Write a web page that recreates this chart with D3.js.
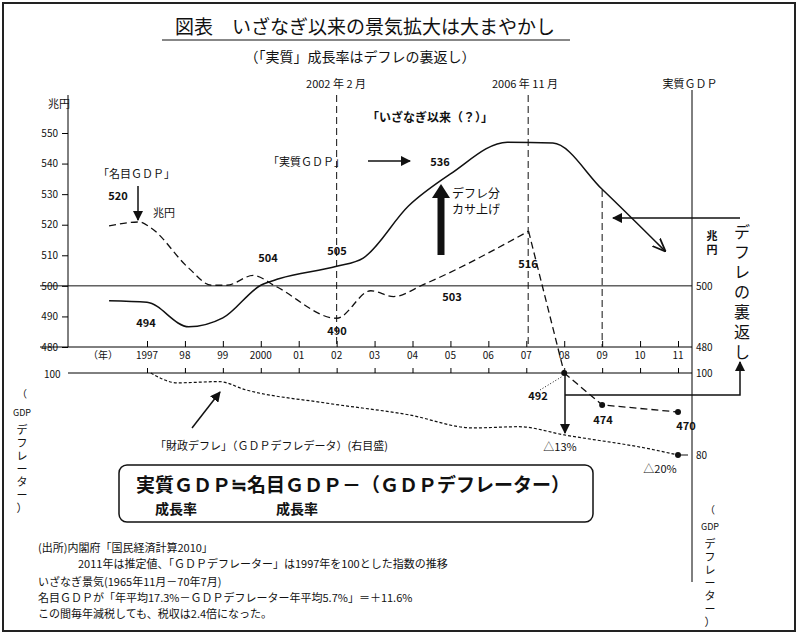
<!DOCTYPE html>
<html>
<head>
<meta charset="utf-8">
<script src="https://d3js.org/d3.v7.min.js"></script>
<style>
  body { margin:0; background:#fff; }
  text { font-family:"Noto Sans CJK JP", sans-serif; fill:#111; }
</style>
</head>
<body>
<script>
// data
var years = ["1997","98","99","2000","01","02","03","04","05","06","07","08","09","10","11"];
var realGdp = [[1996,495.1],[1997,494.6],[1998.1,486.6],[1999,489.5],[2000,500.2],[2000.5,502.4],[2002,506.4],[2002.7,509.1],[2003.9,526.2],[2005,536.6],[2006.5,547],[2007.7,546.7],[2009,531.6],[2010.65,511.5]];
var nominalGdp = [[1996,519.6],[1996.8,520.9],[1997.1,519],[1998.1,505.8],[1998.7,500.2],[1999.1,500.2],[1999.8,503.4],[2000.4,499.8],[2002,489.4],[2002.9,498.4],[2003.5,496.5],[2004.3,500.5],[2007.06,517.9]];
var nominalLow = [[2008,492],[2009,474],[2011,470]];
var deflator = [[1997.1,100],[1997.8,97.6],[1998.9,97.9],[1999.6,95.9],[2001.7,92.7],[2003.9,89.8],[2005.6,86.6],[2006.8,86.9],[2008,84.9],[2010.3,81.4],[2011,80]];
var leftTicks = [480,490,500,510,520,530,540,550];

var W = 798, H = 634;
var svg = d3.select("body").append("svg").attr("width",W).attr("height",H);
svg.append("rect").attr("x",3).attr("y",3).attr("width",W-6).attr("height",H-6)
  .attr("fill","none").attr("stroke","#222").attr("stroke-width",2);

var x = d3.scaleLinear().domain([1997,2011]).range([147,678]);
var y = d3.scaleLinear().domain([480,550]).range([347,133]);
var yd = d3.scaleLinear().domain([80,100]).range([455,373]);
var yl = d3.scaleLinear().domain([470,492]).range([412,373]);

function txt(s,tx,ty,size,opt){
  opt = opt||{};
  return svg.append("text").attr("x",tx).attr("y",ty).attr("font-size",size)
    .attr("text-anchor",opt.anchor||"start").attr("font-weight",opt.bold?"bold":"normal").text(s);
}
function vtxt(s,tx,ty,size,step,bold){
  s.split("").forEach(function(c,i){
    txt(c,tx,ty+i*step,size,{anchor:"middle",bold:bold});
  });
}

svg.append("defs").append("marker").attr("id","ar").attr("viewBox","0 0 10 10")
  .attr("refX",9).attr("refY",5).attr("markerWidth",9).attr("markerHeight",9).attr("orient","auto")
  .append("path").attr("d","M0,1L10,5L0,9").attr("fill","none").attr("stroke","#111").attr("stroke-width",1.3);
svg.select("defs").append("marker").attr("id","af").attr("viewBox","0 0 10 10")
  .attr("refX",9).attr("refY",5).attr("markerWidth",7).attr("markerHeight",7).attr("orient","auto")
  .append("path").attr("d","M0,0L10,5L0,10z").attr("fill","#111");

// titles
txt("図表　いざなぎ以来の景気拡大は大まやかし",365,34,19,{anchor:"middle"});
svg.append("line").attr("x1",162).attr("x2",570).attr("y1",40).attr("y2",40).attr("stroke","#111");
txt("（「実質」成長率はデフレの裏返し）",360,62,14,{anchor:"middle"});

// axes
var axL = svg.append("g").attr("transform","translate(68,0)")
  .call(d3.axisLeft(y).tickValues(leftTicks).tickSize(6).tickFormat(d=>d));
axL.select(".domain").attr("d","M0,95V347");
axL.selectAll("text").attr("font-size",10).attr("x",-10);
txt("兆円",48,108,11);

var axR = svg.append("g").attr("transform","translate(692,0)")
  .call(d3.axisLeft(y).tickValues([480,500]).tickSize(0).tickFormat(d=>d));
axR.select(".domain").attr("d","M0,90V582");
axR.selectAll("text").attr("font-size",10).attr("x",4).attr("text-anchor","start");
var axR2 = svg.append("g").attr("transform","translate(692,0)")
  .call(d3.axisLeft(yd).tickValues([80,100]).tickSize(0).tickFormat(d=>d));
axR2.select(".domain").remove();
axR2.selectAll("text").attr("font-size",10).attr("x",4).attr("text-anchor","start");
svg.append("line").attr("x1",676).attr("x2",688).attr("y1",yd(80)).attr("y2",yd(80)).attr("stroke","#111");

var axX = svg.append("g").attr("transform","translate(0,347)")
  .call(d3.axisTop(x).tickValues(d3.range(1997,2012)).tickSize(6).tickFormat(""));
axX.select(".domain").attr("d","M40,0H692");
axX.selectAll("text").remove();
years.forEach(function(s,i){ txt(s,x(1997+i),359,10,{anchor:"middle"}); });
txt("（年）",103,359,10,{anchor:"middle"});

var axX2 = svg.append("g").attr("transform","translate(0,373)")
  .call(d3.axisTop(x).tickValues(d3.range(1997,2012)).tickSize(5).tickFormat(""));
axX2.select(".domain").attr("d","M68,0H692");
txt("100",44,378,10);
svg.append("line").attr("x1",40).attr("x2",692).attr("y1",y(500)).attr("y2",y(500)).attr("stroke","#111");

// vertical dashed markers
[[2002,95,347],[2007.05,95,347],[2009,190,347]].forEach(function(d){
  svg.append("line").attr("x1",x(d[0])).attr("x2",x(d[0])).attr("y1",d[1]).attr("y2",d[2])
    .attr("stroke","#111").attr("stroke-dasharray","7,4");
});
txt("2002 年 2 月",336,88,11,{anchor:"middle"});
txt("2006 年 11 月",525,88,11,{anchor:"middle"});
txt("実質ＧＤＰ",690,88,11,{anchor:"middle"});

// series
var ln = d3.line().x(d=>x(d[0])).curve(d3.curveMonotoneX);
svg.append("path").datum(realGdp).attr("d",ln.y(d=>y(d[1]))).attr("fill","none")
  .attr("stroke","#111").attr("stroke-width",1.5).attr("marker-end","url(#ar)");
svg.append("path").datum(nominalGdp).attr("d",ln.y(d=>y(d[1]))).attr("fill","none")
  .attr("stroke","#111").attr("stroke-width",1.3).attr("stroke-dasharray","7,4");
svg.append("line").attr("x1",x(2007.06)).attr("y1",y(517.9)).attr("x2",x(2008)).attr("y2",yl(492))
  .attr("stroke","#111").attr("stroke-width",1.3).attr("stroke-dasharray","7,4");
svg.append("path").datum(nominalLow).attr("d",d3.line().x(d=>x(d[0])).y(d=>yl(d[1]))).attr("fill","none")
  .attr("stroke","#111").attr("stroke-width",1.3).attr("stroke-dasharray","7,4");
svg.selectAll(".nl").data(nominalLow).join("circle").attr("cx",d=>x(d[0])).attr("cy",d=>yl(d[1])).attr("r",3).attr("fill","#111");
svg.append("path").datum(deflator).attr("d",d3.line().x(d=>x(d[0])).y(d=>yd(d[1])).curve(d3.curveMonotoneX))
  .attr("fill","none").attr("stroke","#111").attr("stroke-width",1.2).attr("stroke-dasharray","3,2");
svg.append("circle").attr("cx",x(2011)).attr("cy",yd(80)).attr("r",3).attr("fill","#111");

// annotations
txt("「いざなぎ以来（？）」",430,122,12,{anchor:"middle",bold:true});
txt("「実質ＧＤＰ」",268,166,11);
svg.append("line").attr("x1",368).attr("x2",410).attr("y1",161).attr("y2",161).attr("stroke","#111").attr("stroke-width",1.5).attr("marker-end","url(#af)");
txt("536",440,166,11,{anchor:"middle",bold:true});
txt("「名目ＧＤＰ」",98,178,11);
svg.append("line").attr("x1",138).attr("x2",138).attr("y1",186).attr("y2",220).attr("stroke","#111").attr("stroke-width",1.5).attr("marker-end","url(#af)");
txt("520",118,200,11,{anchor:"middle",bold:true});
txt("兆円",153,217,11);
txt("504",268,262,11,{anchor:"middle",bold:true});
txt("505",337,255,11,{anchor:"middle",bold:true});
txt("494",146,327,11,{anchor:"middle",bold:true});
txt("490",337,335,11,{anchor:"middle",bold:true});
txt("503",452,301,11,{anchor:"middle",bold:true});
txt("516",528,268,11,{anchor:"middle",bold:true});
svg.append("line").attr("x1",441).attr("x2",441).attr("y1",255).attr("y2",193).attr("stroke","#111").attr("stroke-width",7);
svg.append("path").attr("d","M432,198L441,184L450,198z").attr("fill","#111");
txt("デフレ分",452,198,12);
txt("カサ上げ",452,214,12);

// right side
vtxt("兆円",712,240,11,14,true);
vtxt("デフレの裏返し",742,238,16,20,false);
svg.append("line").attr("x1",740).attr("x2",613).attr("y1",218).attr("y2",218).attr("stroke","#111").attr("stroke-width",1.5).attr("marker-end","url(#af)");
svg.append("path").attr("d","M565,395H740V362").attr("fill","none").attr("stroke","#111").attr("stroke-width",1.5).attr("marker-end","url(#af)");
svg.append("line").attr("x1",565).attr("x2",565).attr("y1",375).attr("y2",433).attr("stroke","#111").attr("stroke-width",1.5).attr("marker-end","url(#af)");
svg.append("line").attr("x1",540).attr("x2",563).attr("y1",390).attr("y2",376).attr("stroke","#111").attr("stroke-dasharray","1,2");
txt("492",538,400,11,{anchor:"middle",bold:true});
txt("474",603,424,11,{anchor:"middle",bold:true});
txt("470",686,430,11,{anchor:"middle",bold:true});
txt("△13%",560,451,11,{anchor:"middle"});
txt("△20%",660,473,11,{anchor:"middle"});
txt("「財政デフレ」（ＧＤＰデフレデータ）(右目盛)",155,450,11);
svg.append("line").attr("x1",192).attr("x2",220).attr("y1",428).attr("y2",392).attr("stroke","#111").attr("stroke-width",1.5).attr("marker-end","url(#af)");

txt("（",22,398,10,{anchor:"middle"});
txt("GDP",22,416,9,{anchor:"middle"});
vtxt("デフレーター）",22,434,11,13,false);
txt("（",710,514,10,{anchor:"middle"});
txt("GDP",710,530,9,{anchor:"middle"});
vtxt("デフレーター）",710,548,11,13,false);

// formula box
svg.append("rect").attr("x",119).attr("y",465).attr("width",474).attr("height",57).attr("rx",8)
  .attr("fill","none").attr("stroke","#111").attr("stroke-width",1.5);
txt("実質ＧＤＰ≒名目ＧＤＰ－（ＧＤＰデフレーター）",136,492,19,{bold:true});
txt("成長率",155,514,14,{bold:true});
txt("成長率",276,514,14,{bold:true});

// notes
txt("(出所)内閣府「国民経済計算2010」",38,552,11);
txt("2011年は推定値、「ＧＤＰデフレーター」は1997年を100とした指数の推移",78,568,11);
txt("いざなぎ景気(1965年11月－70年7月)",38,586,11);
txt("名目ＧＤＰが「年平均17.3%－ＧＤＰデフレーター年平均5.7%」＝＋11.6%",38,602,11);
txt("この間毎年減税しても、税収は2.4倍になった。",38,618,11);
</script>
</body>
</html>
